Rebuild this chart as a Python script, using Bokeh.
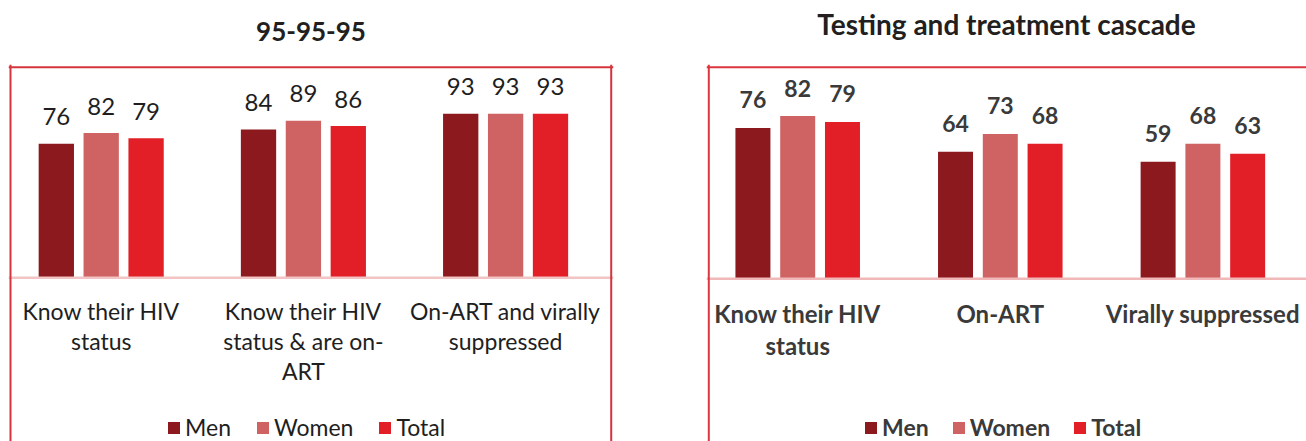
from bokeh.plotting import figure
from bokeh.models import Range1d, Span, Legend, LegendItem, Title, ColumnDataSource
from bokeh.layouts import row
from bokeh.embed import file_html
from bokeh.resources import INLINE
from bokeh.core.properties import value
import numpy as np

# ---------------- data ----------------
series_names = ["Men", "Women", "Total"]

c1_title = "95-95-95"
c1_categories = ["Know their HIV\nstatus",
                 "Know their HIV\nstatus & are on-\nART",
                 "On-ART and virally\nsuppressed"]
c1_men = [76, 84, 93]
c1_women = [82, 89, 93]
c1_total = [79, 86, 93]

c2_title = "Testing and treatment cascade"
c2_categories = ["Know their HIV\nstatus", "On-ART", "Virally suppressed"]
c2_men = [76, 64, 59]
c2_women = [82, 73, 68]
c2_total = [79, 68, 63]

colors = ["#8b191d", "#cf6262", "#e21f27"]


def make_chart(title, cats, series, cfg):
    p = figure(width=cfg["width"], height=441, title=None,
               x_range=Range1d(*cfg["xr"]), y_range=Range1d(*cfg["yr"]),
               x_axis_location=None, y_axis_location=None,
               toolbar_location=None, output_backend="svg",
               min_border_left=cfg["mbl"], min_border_right=cfg["mbr"],
               min_border_top=64, min_border_bottom=0)
    p.grid.visible = False
    p.outline_line_color = None
    p.background_fill_color = "white"
    p.border_fill_color = "white"

    # titles (spacer closest to frame, then main title)
    p.add_layout(Title(text=" ", text_font_size="10px", standoff=11), "above")
    p.add_layout(Title(text=title, align="center", text_font="Lato",
                       text_font_size=cfg["tfs"], text_font_style="bold",
                       text_color="#231f20", standoff=0), "above")

    n = len(cats)
    centers = np.arange(n) + 0.5
    off = cfg["off"]
    renderers = []
    for k, (name, vals) in enumerate(zip(series_names, series)):
        xs = centers + (k - 1) * off
        src = ColumnDataSource(dict(x=xs, top=vals, lab=[str(v) for v in vals]))
        r = p.vbar(x="x", top="top", bottom=0, width=cfg["bw"], source=src,
                   fill_color=colors[k], line_color=None)
        renderers.append(r)
        p.text(x="x", y="top", text="lab", source=src, y_offset=cfg["loff"],
               text_align="center", text_baseline="alphabetic",
               text_font=value("Lato"), text_font_size=cfg["lfs"],
               text_font_style=cfg["fstyle"], text_color=cfg["tcolor"])

    # baseline
    p.add_layout(Span(location=0, dimension="width", line_color=cfg["basecolor"],
                      line_width=2.5))

    # category labels (one glyph per line)
    lx, ly, lt, lo = [], [], [], []
    for c, cat in zip(centers, cats):
        for i, line in enumerate(cat.split("\n")):
            lx.append(c); ly.append(0); lt.append(line); lo.append(cfg["cat_y0"] + i * cfg["cat_dy"])
    csrc = ColumnDataSource(dict(x=lx, y=ly, t=lt, o=lo))
    p.text(x="x", y="y", text="t", y_offset="o", source=csrc,
           text_align="center", text_baseline="alphabetic",
           text_font=value("Lato"), text_font_size=cfg["cfs"],
           text_font_style=cfg["fstyle"], text_color=cfg["tcolor"])

    # box (left, top and optionally right edges)
    bc = cfg["boxcolor"]
    bl, br, bt = cfg["box"]
    p.add_layout(Span(location=bl, dimension="height", line_color=bc, line_width=2))
    p.add_layout(Span(location=bt, dimension="width", line_color=bc, line_width=2))
    if br is not None:
        p.add_layout(Span(location=br, dimension="height", line_color=bc, line_width=2))

    legend = Legend(items=[LegendItem(label=nm, renderers=[r]) for nm, r in zip(series_names, renderers)],
                    orientation="horizontal", location=cfg["legloc"],
                    glyph_width=15, glyph_height=15, label_standoff=4,
                    spacing=cfg["legsp"], padding=0, margin=0,
                    border_line_color=None, background_fill_alpha=0,
                    label_text_font="Lato", label_text_font_size=cfg["legfs"],
                    label_text_font_style=cfg["fstyle"], label_text_color=cfg["tcolor"])
    p.add_layout(legend)
    return p


cfg1 = dict(width=706, mbl=8, mbr=93, xr=(0.04154, 3.0336), yr=(-92.75, 120.85),
            box=(0.05143, 3.0223, 119.32),
            off=0.222, bw=0.1746, loff=-27, lfs="24px", cfs="23px", legfs="23px", fstyle="normal",
            tcolor="#1e1e1e", basecolor="#f2c4c4", boxcolor="#d4343c", tfs="26px",
            cat_y0=33.5, cat_dy=30, legloc=(158, 0), legsp=24)
cfg2 = dict(width=600, mbl=0, mbr=0, xr=(0.04985, 3.0114), yr=(-81.96, 107.96),
            box=(0.0612, None, 106.6),
            off=0.221, bw=0.1727, loff=-28, lfs="23px", cfs="24px", legfs="23px", fstyle="bold",
            tcolor="#3a3a3a", basecolor="#f0b8b8", boxcolor="#dc3540", tfs="28px",
            cat_y0=34.5, cat_dy=32, legloc=(157, 0), legsp=22)

p1 = make_chart(c1_title, c1_categories, [c1_men, c1_women, c1_total], cfg1)
p2 = make_chart(c2_title, c2_categories, [c2_men, c2_women, c2_total], cfg2)

layout = row(p1, p2, spacing=0)
open("out.html", "w").write(file_html(layout, INLINE))
